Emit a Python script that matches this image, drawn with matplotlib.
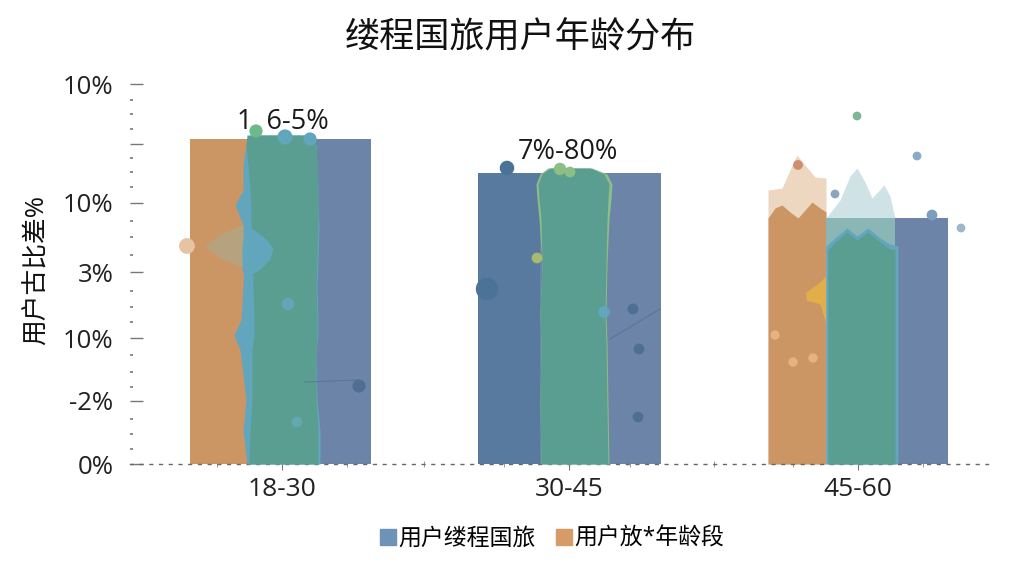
import matplotlib
matplotlib.use("Agg")
import matplotlib.pyplot as plt
from matplotlib.patches import Patch

plt.rcParams['font.family'] = ['Open Sans', 'Noto Sans CJK SC', 'DejaVu Sans']

title = "缕程国旅用户年龄分布"
y_title = "用户古比差%"
legend_names = ["用户缕程国旅", "用户放*年龄段"]

# axis runs in picture units, labels on it are not monotonic in the source
categories = ["18-30", "30-45", "45-60"]
cat_pos = [152, 439, 728]
y_ticks = [0, 63, 126, 192, 261, 320, 380]
y_labels = ["0%", "-2%", "10%", "3%", "10%", "", "10%"]
y_minor = [15, 30, 45, 77, 92, 109, 142, 157, 173, 209, 227, 243, 277, 292, 306, 335, 350, 364]
x_minor = [87, 217, 294, 374, 500, 584, 663, 793]

# bars: left, width, height
orange_left = [60, 638]
orange_width = [57, 58]
orange_height = [325, 250]
blue_left = [117, 348, 696]
blue_width = [124, 183, 122]
blue_height = [325, 291, 246]
dark_left = [348]
dark_width = [62]
dark_height = [291]

bar_labels = ["1  6-5%", "7%-80%"]
bar_label_x = [153, 438]
bar_label_y = [342, 312]

# group 1 wobbly centre
g1_y = [0, 34, 64, 114, 129, 144, 179, 202, 239, 259, 274, 299, 319, 329]
g1_edge_l = [117, 113, 116, 110, 104, 111, 113, 114, 113, 105, 113, 113, 116, 120]
g1_edge_r = [190, 190, 187, 186, 188, 188, 187, 188, 189, 188, 188, 187, 186, 184]
g1_green_l = [119, 120, 122, 122, 124, 124, 123, 123, 121, 121, 120, 118, 116, 117]
g1_green_r = [188, 188, 186, 186, 187, 187, 186, 187, 188, 188, 188, 187, 186, 184]
g1_lump_y = [186, 195, 205, 216, 226, 234, 238]
g1_lump_l = [114, 112, 112, 112, 113, 114, 115]
g1_lump_r = [116, 130, 140, 143, 135, 124, 116]

# group 2 centre
g2_y = [0, 60, 120, 150, 200, 245, 265, 280, 290, 296]
g2_green_l = [411, 410, 411, 410, 412, 411, 409, 408, 412, 420]
g2_green_r = [478, 477, 476, 475, 476, 477, 478, 479, 474, 460]
g2_rim_l = [411, 410, 411, 410, 412, 409, 407, 406, 410, 418]
g2_rim_r = [479, 478, 477, 476, 477, 479, 481, 482, 477, 462]

# group 3 layers
pale_orange_x = [638, 652, 660, 667, 675, 685, 696]
pale_orange_y = [274, 276, 294, 309, 299, 287, 286]
solid_orange_x = [638, 645, 652, 660, 668, 675, 682, 690, 696]
solid_orange_y = [246, 256, 259, 252, 246, 254, 262, 256, 252]
pale_teal_x = [696, 710, 720, 727, 735, 742, 754, 760, 765]
pale_teal_y = [246, 264, 288, 296, 282, 266, 279, 268, 246]
mid_teal_x = [696, 765]
mid_teal_y = [246, 246]
green3_x = [698, 705, 717, 727, 738, 750, 758, 765]
green3_y = [214, 222, 232, 224, 232, 222, 216, 214]
rim3_x = [696, 705, 717, 727, 738, 750, 760, 768]
rim3_y = [218, 226, 236, 228, 236, 226, 220, 218]
orange_wedge_x = [75, 90, 115]
orange_wedge_lo = [218, 206, 196]
orange_wedge_hi = [218, 230, 240]
yellow_x = [676, 690, 702, 714]
yellow_lo = [164, 160, 120, 164]
yellow_hi = [172, 182, 195, 172]

# thin faint strokes
line_x = [[175, 229], [480, 530]]
line_y = [[82, 84], [125, 155]]

# blobs: x, y, size, colour
blob_x = [126, 155, 180, 57, 158, 167, 229,
          357, 377, 503, 509, 508, 474, 407, 430, 440,
          727, 668, 705, 787, 831, 645, 663, 683, 802]
blob_y = [333, 327, 325, 218, 160, 42, 78,
          175, 296, 155, 115, 47, 152, 206, 295, 292,
          348, 299, 270, 308, 236, 129, 102, 106, 249]
blob_s = [90, 120, 90, 130, 80, 60, 90,
          260, 110, 60, 60, 60, 70, 60, 80, 60,
          40, 50, 40, 40, 40, 45, 45, 45, 60]
blob_c = ["#6DB98A", "#62A6BE", "#62A6BE", "#E6C3A2", "#62A8B0", "#62A8B0", "#4F6F92",
          "#4A7397", "#4A7397", "#4F6F92", "#4F6F92", "#4F6F92", "#62A6BE", "#A9B96E", "#8DBE85", "#8DBE85",
          "#7FB795", "#CF8F6E", "#8BA6BC", "#8BAAC8", "#9DB6D0", "#E6B37E", "#E6B37E", "#E6B37E", "#7A9FBD"]

orange = "#CB9663"
blue = "#6B84A8"
dark = "#577A9E"
green = "#5A9E92"
edge = "#62A6BE"

fig = plt.figure(figsize=(10.24, 5.76), dpi=100)
ax = fig.add_axes([130 / 1024, 1 - 464 / 576, 858 / 1024, 380 / 576])
ax.set_xlim(0, 858)
ax.set_ylim(0, 380)

ax.bar(blue_left, blue_height, blue_width, align="edge", color=blue, zorder=2)
ax.bar(dark_left, dark_height, dark_width, align="edge", color=dark, zorder=2)
ax.fill_between(pale_orange_x, pale_orange_y, color="#EDD7C1", lw=0, zorder=1.5)
ax.fill_between(pale_teal_x, pale_teal_y, color="#CFE3E6", lw=0, zorder=1.5)
ax.bar(orange_left[0], orange_height[0], orange_width[0], align="edge", color=orange, zorder=2)
ax.fill_between(solid_orange_x, solid_orange_y, color=orange, lw=0, zorder=2)

ax.fill_betweenx(g1_y, g1_edge_l, g1_edge_r, color=edge, lw=0, zorder=3)
ax.fill_betweenx(g1_y, g1_green_l, g1_green_r, color=green, lw=0, zorder=3.2)
ax.fill_betweenx(g1_lump_y, g1_lump_l, g1_lump_r, color=edge, lw=0, zorder=3.4)
ax.fill_betweenx(g2_y, g2_rim_l, g2_rim_r, color="#8DBE85", lw=0, zorder=3)
ax.fill_betweenx(g2_y, g2_green_l, g2_green_r, color=green, lw=0, zorder=3.2)
ax.fill_between(orange_wedge_x, orange_wedge_lo, orange_wedge_hi, color="#B6A27E", lw=0, zorder=2.5)
ax.fill_between(yellow_x, yellow_lo, yellow_hi, color="#E2AE4A", lw=0, zorder=2.4)

ax.fill_between(mid_teal_x, mid_teal_y, color="#8AB6B5", lw=0, zorder=2.5)
ax.fill_between(rim3_x, rim3_y, color=edge, lw=0, zorder=3)
ax.fill_between(green3_x, green3_y, color=green, lw=0, zorder=3.2)

for xs, ys in zip(line_x, line_y):
    ax.plot(xs, ys, color="#55708F", lw=0.8, alpha=0.7, zorder=3.3)
ax.scatter(blob_x, blob_y, s=blob_s, c=blob_c, linewidths=0, zorder=3.5, clip_on=False)

for x, y, t in zip(bar_label_x, bar_label_y, bar_labels):
    ax.text(x, y, t, ha="center", va="center", fontsize=19.5, color="#1a1a1a", zorder=5)

ax.set_xticks(cat_pos)
ax.set_xticklabels(categories, fontsize=19, color="#222222")
ax.set_xticks(x_minor, minor=True)
ax.tick_params(axis="x", which="major", length=8, width=0.8, color="#777777", direction="inout", pad=5)
ax.tick_params(axis="x", which="minor", length=5, width=0.6, color="#888888", direction="inout")

ax.set_yticks(y_ticks)
ax.set_yticklabels(y_labels, fontsize=18.5, color="#222222")
ax.set_yticks(y_minor, minor=True)
ax.tick_params(axis="y", which="major", direction="in", length=9, width=1, color="#777777", pad=12)
ax.tick_params(axis="y", which="minor", direction="in", length=2, width=1.2, color="#777777")

for s in ["top", "right", "left"]:
    ax.spines[s].set_visible(False)
ax.spines["bottom"].set_linestyle((0, (2, 5)))
ax.spines["bottom"].set_color("#666666")
ax.spines["bottom"].set_linewidth(1)

fig.text(520 / 1024, 1 - 38 / 576, title, ha="center", va="center", fontsize=25.3, color="#111111")
fig.text(37 / 1024, 1 - 270 / 576, y_title, rotation=90, ha="center", va="center", fontsize=18.5, color="#111111")

handles = [Patch(color="#6F92B8"), Patch(color="#D69B66")]
fig.legend(handles, legend_names, loc="center", bbox_to_anchor=(552 / 1024, 1 - 539 / 576), ncol=2, frameon=False,
           fontsize=16.5, handlelength=0.7, handleheight=0.7, handletextpad=0.1, columnspacing=0.9)

fig.savefig("out.png", dpi=100, facecolor="white")
